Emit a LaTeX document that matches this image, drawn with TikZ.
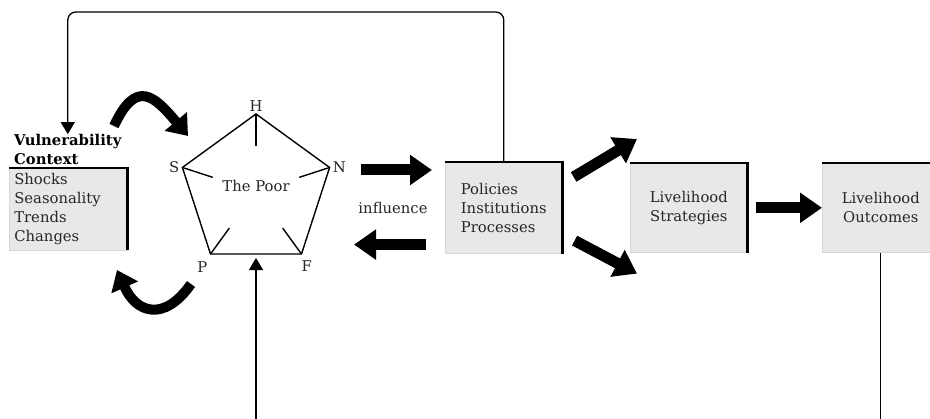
\documentclass[tikz,border=0pt]{standalone}
\usepackage{fontspec}
\setmainfont{DejaVu Serif}
\usetikzlibrary{arrows.meta,positioning,calc,shapes.geometric}

\tikzset{
  txt/.style={font=\fontsize{14.8pt}{19pt}\selectfont, text=black!85},
  box/.style={txt, fill=black!9, draw=black!16, line width=0.6pt, anchor=north west, inner sep=5pt},
  boxedge/.style={line width=2.6pt},
  fatarrow/.style={line width=11pt, -{Triangle[length=22pt,width=29pt]}},
  curvearrow/.style={line width=10pt, -{Triangle[length=19pt,width=28pt]}},
  thinarrow/.style={line width=1.3pt, -{Triangle[length=12pt,width=14pt]}},
  vlabel/.style={txt, inner sep=1pt},
  spoke/.style={line width=1.4pt}
}

\begin{document}
\begin{tikzpicture}[x=1pt,y=-1pt]
\useasboundingbox (0,0) rectangle (930,419);
\clip (0,0) rectangle (930,419);
% Vulnerability context
\node[txt, font=\fontsize{14.8pt}{19pt}\selectfont\bfseries, text=black, align=left, inner sep=0pt, anchor=south west] (vtitle) at (14,165) {Vulnerability\\Context};
\node[box, minimum width=118pt, minimum height=80pt, text width=108pt, align=left] (vul) at (9,168) {Shocks\\Seasonality\\Trends\\Changes};
\draw[boxedge] (vul.north west) -- (vul.north east) -- (vul.south east);
% Asset pentagon
\node[regular polygon, regular polygon sides=5, minimum size=154.8pt, inner sep=0pt, outer sep=0pt, draw, line width=1.4pt] (poor) at (256,191.4) {};
\foreach \c in {1,...,5}
  \draw[spoke] (poor.corner \c) -- ($(poor.corner \c)!32pt!(poor.center)$);
\node[txt] (poortxt) at (256,186) {The Poor};
\node[vlabel, above=1pt of poor.corner 1] (hlab) {H};
\node[vlabel, left=2pt of poor.corner 2] (slab) {S};
\node[vlabel, below left=6pt and 2pt of poor.corner 3] (plab) {P};
\node[vlabel, below right=5pt and -1pt of poor.corner 4] (flab) {F};
\node[vlabel, right=2pt of poor.corner 5] (nlab) {N};
% Curved arrows
\coordinate (cv1) at (114,126);
\coordinate (cv2) at (188,136);
\coordinate (cv3) at (191,284);
\coordinate (cv4) at (117,270);
\draw[curvearrow] (cv1) to[out=65, in=130, looseness=1.8] (cv2);
\draw[curvearrow] (cv3) to[out=-125, in=-66, looseness=1.6] (cv4);
% Policies, institutions, processes
\node[box, minimum width=117pt, minimum height=91pt, align=left] (pip) at (445,162) {Policies\\Institutions\\Processes};
\draw[boxedge] (pip.north west) -- (pip.north east) -- (pip.south east);
\node[txt] (infl) at (393,208) {influence};
\draw[fatarrow] ([shift={(-84,8)}]pip.north west) -- ([shift={(-13,8)}]pip.north west);
\draw[fatarrow] ([shift={(-19,-9)}]pip.south west) -- ([shift={(-91,-9)}]pip.south west);
% Livelihood strategies and outcomes
\node[box, minimum width=117pt, minimum height=89pt, align=center] (str) at (630,163) {Livelihood\\Strategies};
\draw[boxedge] (str.north west) -- (str.north east) -- (str.south east);
\node[box, minimum width=117pt, minimum height=89pt, align=center] (out) at (822,163) {Livelihood\\Outcomes};
\draw[boxedge] (out.north west) -- (out.north east) -- (out.south east);
\draw[fatarrow] ([shift={(11,15)}]pip.north east) -- ([shift={(7,-24)}]str.north west);
\draw[fatarrow] ([shift={(12,-13)}]pip.south east) -- ([shift={(7,21)}]str.south west);
\draw[fatarrow, shorten <=8pt] (str) -- (out);
% Feedback lines
\coordinate (top) at (0,12);
\coordinate (bottom) at (256,419);
\draw[thinarrow, rounded corners=8pt] (pip.north) |- (vtitle.north |- top) -- (vtitle.north);
\draw[thinarrow, shorten >=4pt] (bottom) -- (poor.south);
\draw[line width=1.3pt] (out.south) -- (out.south |- bottom);
\end{tikzpicture}
\end{document}
